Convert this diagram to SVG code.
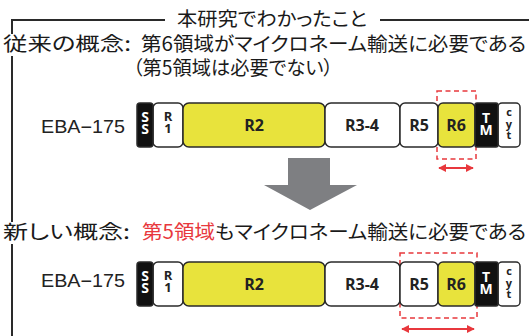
<svg xmlns="http://www.w3.org/2000/svg" width="529" height="336" viewBox="0 0 529 336">
<style>
.jp{font-family:"Noto Sans CJK JP","Noto Sans",sans-serif;font-size:19.5px;fill:#1a1a1a;font-feature-settings:"palt"}
.lbl{font-family:"Liberation Sans","Noto Sans",sans-serif;font-size:18px;fill:#222}
.seg{stroke:#2a2a2a;stroke-width:1.5}
.w{fill:#fff}
.y{fill:#e8e33c}
.k{fill:#111}
.st{font-family:"Open Sans","Noto Sans",sans-serif;font-weight:bold;text-anchor:middle;fill:#222}
.sw{fill:#fff}
.dash{fill:none;stroke:#e8383d;stroke-width:1.5;stroke-dasharray:5 3.5}
.red{stroke:#e8383d;stroke-width:2;fill:none}
</style>
<defs>
<marker id="ah" viewBox="0 0 10 10" refX="9" refY="5" markerWidth="8" markerHeight="8" orient="auto-start-reverse" markerUnits="userSpaceOnUse">
<path d="M0,0 L10,5 L0,10 z" fill="#e8383d"/>
</marker>
<g id="bar">
<rect class="seg w" x="153" y="0" width="30" height="44" rx="5"/>
<rect class="seg y" x="183" y="0" width="142" height="44" rx="6"/>
<rect class="seg w" x="325" y="0" width="75" height="44" rx="6"/>
<rect class="seg w" x="400" y="0" width="38" height="44" rx="5"/>
<rect class="seg y" x="438" y="0" width="37" height="44" rx="5"/>
<rect class="seg w" x="498" y="0" width="22" height="44" rx="4"/>
<rect class="seg k" x="137" y="0" width="16" height="44" rx="3"/>
<rect class="seg k" x="475" y="0" width="23" height="44" rx="2"/>
<text class="st sw" x="145" y="19" font-size="14">S</text>
<text class="st sw" x="145" y="31" font-size="14">S</text>
<text class="st" x="168" y="18" font-size="13">R</text>
<text class="st" x="168" y="30" font-size="13">1</text>
<text class="st" x="254" y="28" font-size="16">R2</text>
<text class="st" x="362" y="28" font-size="16">R3-4</text>
<text class="st" x="419" y="28" font-size="16">R5</text>
<text class="st" x="456" y="28" font-size="16">R6</text>
<text class="st sw" x="486" y="20" font-size="14">T</text>
<text class="st sw" x="486" y="32" font-size="14">M</text>
<text class="st" x="509" y="13" font-size="11">c</text>
<text class="st" x="509" y="25" font-size="11">y</text>
<text class="st" x="509" y="36" font-size="11">t</text>
</g>
</defs>

<g id="frame">
<path d="M12,336 V20 H165 M380,20 H529" fill="none" stroke="#2a2a2a" stroke-width="2"/>
<text class="jp" x="272" y="26" font-size="18.5" text-anchor="middle" textLength="190" lengthAdjust="spacingAndGlyphs">本研究でわかったこと</text>
</g>

<g id="old-concept">
<rect x="0" y="34" width="140" height="22" fill="#fff"/>
<text class="jp" x="3" y="51" textLength="128" lengthAdjust="spacingAndGlyphs">従来の概念:</text>
<text class="jp" x="141" y="51" textLength="385" lengthAdjust="spacingAndGlyphs">第6領域がマイクロネーム輸送に必要である</text>
<text class="jp" x="133" y="75" textLength="200" lengthAdjust="spacingAndGlyphs">（第5領域は必要でない）</text>
</g>

<g id="bar1">
<rect class="dash" x="437" y="91" width="39" height="68"/>
<text class="lbl" x="41" y="133" textLength="84" lengthAdjust="spacingAndGlyphs">EBA−175</text>
<use href="#bar" y="103"/>
</g>

<g id="down-arrow">
<polygon points="288,158 330,158 330,185 357,185 310,210 264,185 288,185" fill="#7e7f82"/>
</g>

<g id="new-concept">
<rect x="0" y="222" width="140" height="22" fill="#fff"/>
<text class="jp" x="3" y="239" textLength="127" lengthAdjust="spacingAndGlyphs">新しい概念:</text>
<text class="jp" x="142" y="239" textLength="384" lengthAdjust="spacingAndGlyphs"><tspan fill="#e8383d">第5領域</tspan>もマイクロネーム輸送に必要である</text>
</g>

<g id="bar2">
<rect class="dash" x="400" y="253" width="77" height="65"/>
<text class="lbl" x="41" y="287" textLength="84" lengthAdjust="spacingAndGlyphs">EBA−175</text>
<use href="#bar" y="262"/>
</g>

<g id="connectors">
<line class="red" x1="439" y1="168" x2="473" y2="168" marker-start="url(#ah)" marker-end="url(#ah)"/>
<line class="red" x1="402" y1="329" x2="474" y2="329" marker-start="url(#ah)" marker-end="url(#ah)"/>
</g>
</svg>
